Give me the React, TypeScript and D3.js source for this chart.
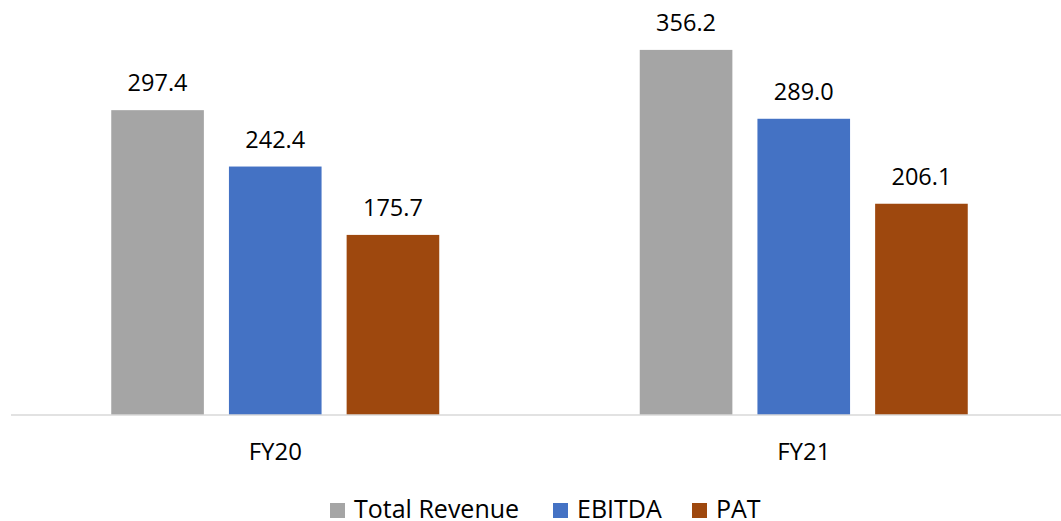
import * as d3 from "d3";
import React, { useEffect, useRef } from "react";

const categories = ["FY20", "FY21"];
const seriesNames = ["Total Revenue", "EBITDA", "PAT"];
const totalRevenue = [297.4, 356.2];
const ebitda = [242.4, 289.0];
const pat = [175.7, 206.1];
const colors = ["#A5A5A5", "#4472C4", "#9E480E"];

const App = () => {
  const ref = useRef<SVGSVGElement>(null);

  useEffect(() => {
    const width = 1061;
    const height = 521;
    const baseY = 415;
    const font = "'Open Sans', 'Liberation Sans', sans-serif";
    const values = [totalRevenue, ebitda, pat];

    const svg = d3.select(ref.current).attr("width", width).attr("height", height);
    svg.selectAll("*").remove();

    const x0 = d3.scaleBand().domain(categories).range([11, 1068]);
    const x1 = d3
      .scaleBand()
      .domain(seriesNames)
      .range([-164, 164])
      .paddingInner(0.213)
      .paddingOuter(0);
    const y = d3.scaleLinear().domain([0, 400]).range([baseY, 5]);

    // bars + value labels
    categories.forEach((cat, ci) => {
      const cx = x0(cat)! + x0.bandwidth() / 2;
      const g = svg.append("g").attr("transform", `translate(${cx},0)`);
      seriesNames.forEach((s, si) => {
        const v = values[si][ci];
        g.append("rect")
          .attr("x", x1(s)!)
          .attr("y", y(v))
          .attr("width", x1.bandwidth())
          .attr("height", baseY - y(v))
          .attr("fill", colors[si]);
        g.append("text")
          .attr("x", x1(s)! + x1.bandwidth() / 2)
          .attr("y", y(v) - 19)
          .attr("text-anchor", "middle")
          .style("font-family", font)
          .style("font-size", "23.5px")
          .attr("fill", "#000")
          .text(v.toFixed(1));
      });
      svg
        .append("text")
        .attr("x", cx)
        .attr("y", 460)
        .attr("text-anchor", "middle")
        .style("font-family", font)
        .style("font-size", "24px")
        .attr("fill", "#000")
        .text(cat);
    });

    // axis line
    svg
      .append("line")
      .attr("x1", 11)
      .attr("x2", width)
      .attr("y1", baseY)
      .attr("y2", baseY)
      .attr("stroke", "#D9D9D9")
      .attr("stroke-width", 1.5);

    // legend
    const legendX = [330, 553, 692];
    const legend = svg
      .selectAll(".legend")
      .data(seriesNames)
      .enter()
      .append("g")
      .attr("class", "legend")
      .attr("transform", (d, i) => `translate(${legendX[i]}, 503)`);

    legend
      .append("rect")
      .attr("width", 15)
      .attr("height", 15)
      .attr("fill", (d, i) => colors[i]);

    legend
      .append("text")
      .attr("x", 24)
      .attr("y", 15)
      .style("font-family", font)
      .style("font-size", "25px")
      .attr("fill", "#000")
      .text((d) => d);
  }, []);

  return (
    <svg
      ref={ref}
      style={{ position: "absolute", left: 0, top: 0, display: "block" }}
    ></svg>
  );
};

export default App;
